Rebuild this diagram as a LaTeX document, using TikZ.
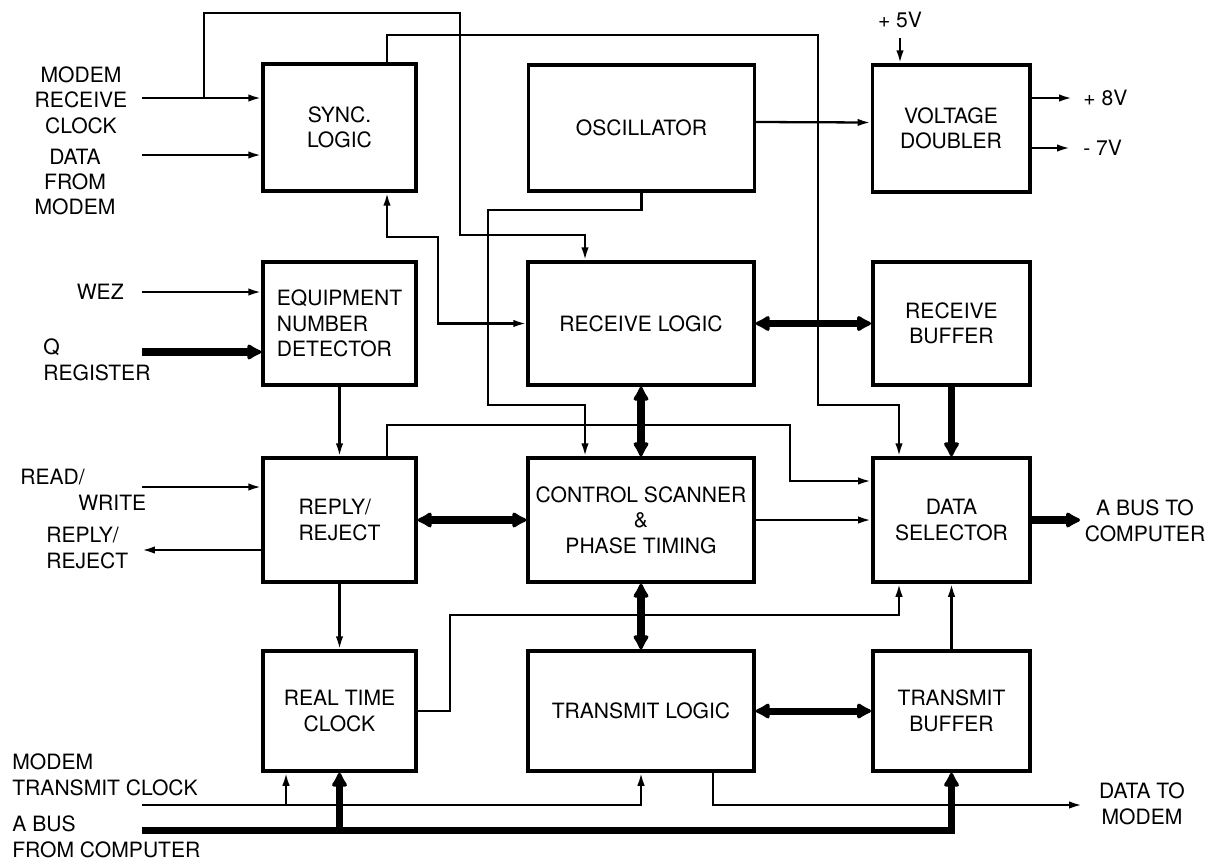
\documentclass[tikz,border=0pt]{standalone}
\usepackage{fontspec}
\setmainfont{TeX Gyre Heros}
\usetikzlibrary{arrows.meta,calc}

\tikzset{
	blk/.style={draw, line width=2pt, minimum width=3.06cm, minimum height=2.48cm, align=center, inner sep=2pt},
	wideblk/.style={blk, minimum width=4.52cm},
	rightblk/.style={blk, minimum width=3.15cm},
	sig/.style={line width=1.3pt, -{Latex[length=2.6mm,width=1.5mm]}},
	sigboth/.style={line width=1.3pt, {Latex[length=2.6mm,width=1.5mm]}-{Latex[length=2.6mm,width=1.5mm]}},
	bus/.style={line width=4pt, -{Latex[length=3.4mm,width=3.8mm,round]}},
	busboth/.style={line width=4pt, {Latex[length=3.4mm,width=3.8mm,round]}-{Latex[length=3.4mm,width=3.8mm,round]}},
	lbl/.style={inner sep=0pt}
}

\begin{document}
\begin{tikzpicture}[x=0.02cm, y=-0.02cm, font=\fontsize{12}{14.5}\selectfont]
	
	\useasboundingbox (0,0) rectangle (1217,863);
	
	\node [blk, minimum height=2.54cm] (sync) at (339.5,127.5) {SYNC.\\LOGIC};
	
	\node [wideblk, minimum height=2.52cm] (osc) at (641.5,128) {OSCILLATOR};
	
	\node [rightblk, minimum height=2.54cm] (vd) at (951,128.5) {VOLTAGE\\DOUBLER};
	
	\node [blk, minimum height=2.46cm, align=left] (eqd) at (339.5,323.5) {EQUIPMENT\\NUMBER\\DETECTOR};
	
	\node [wideblk, minimum height=2.46cm] (rcv) at (641,323.5) {RECEIVE LOGIC};
	
	\node [rightblk, minimum height=2.46cm] (rbuf) at (951.5,323.5) {RECEIVE\\BUFFER};
	
	\node [blk, align=left] (reply) at (339.5,520) {REPLY/\\REJECT};
	
	\node [wideblk] (ctrl) at (641,520) {CONTROL SCANNER\\\&\\PHASE TIMING};
	
	\node [rightblk] (dsel) at (951.5,520) {DATA\\SELECTOR};
	
	\node [blk, minimum height=2.4cm] (rtc) at (339.5,711) {REAL TIME\\CLOCK};
	
	\node [wideblk, minimum height=2.4cm] (xmit) at (641,711) {TRANSMIT LOGIC};
	
	\node [rightblk, minimum height=2.4cm] (xbuf) at (951.5,711) {TRANSMIT\\BUFFER};
	
	
	\node [lbl, align=center] (mrc) at (81,100) {MODEM\\RECEIVE\\CLOCK};
	
	\node [lbl, align=center] (dfm) at (75,182) {DATA\\FROM\\MODEM};
	
	\node [lbl, anchor=east] (wez) at (124,292) {WEZ};
	
	\node [lbl, anchor=west, align=left] (qreg) at (43,360) {Q\\REGISTER};
	
	\node [lbl, anchor=west, align=left] (rw) at (20,490) {READ/\\\hspace*{11.6mm}WRITE};
	
	\node [lbl, anchor=west, align=left] (rr) at (46,548) {REPLY/\\REJECT};
	
	\node [lbl, anchor=west, align=left] (mtc) at (12,775) {MODEM\\TRANSMIT CLOCK};
	
	\node [lbl, anchor=west, align=left] (abfc) at (12,837) {A BUS\\FROM COMPUTER};
	
	\node [lbl] (p5) at (900,20) {+ 5V};
	
	\node [lbl, anchor=west] (p8) at (1083,98) {+ 8V};
	
	\node [lbl, anchor=west] (m7) at (1083,148) {- 7V};
	
	\node [lbl, align=center] (abtc) at (1145,521) {A BUS TO\\COMPUTER};
	
	\node [lbl, align=center] (dtm) at (1142,804) {DATA TO\\MODEM};
	
	
	\coordinate (mrcin) at (142,98);
	\coordinate (j1) at (204,98);
	\coordinate (t1) at (460,13);
	\coordinate (t2) at (585,235);
	\coordinate (t3) at (818,35);
	\coordinate (t4) at (899,405);
	\coordinate (t5) at (438,237);
	\coordinate (t6) at (488,210);
	\coordinate (t7) at (585,405);
	\coordinate (t8) at (790,425);
	\coordinate (t9) at (450,615);
	\coordinate (dfmin) at (142,155);
	\coordinate (wezin) at (142,292);
	\coordinate (qin) at (142,352);
	\coordinate (rwin) at (142,487);
	\coordinate (rrout) at (142,550);
	\coordinate (mtcin) at (142,805);
	\coordinate (b1) at (286,805);
	\coordinate (abin) at (142,830);
	\coordinate (p8end) at (1072,98);
	\coordinate (m7end) at (1070,148);
	\coordinate (abend) at (1080,520);
	\coordinate (dtmend) at (1082,805);
	
	
	\draw [sig] (mrcin) -- (mrcin -| sync.west);
	
	\draw [sig] (j1) |- (t1) |- (t2) -- ($(rcv.north)+(-56,0)$);
	
	\draw [sig] ($(sync.north)+(47.5,0)$) |- (t3) |- (t4) -- ($(dsel.north)+(-52.5,0)$);
	
	\draw [sig] (dfmin) -- (dfmin -| sync.west);
	
	\draw [sigboth] ($(sync.south)+(47.5,0)$) |- (t5) |- (rcv.west);
	
	\draw [sig] (osc.south) |- (t6) |- (t7) -- ($(ctrl.north)+(-56,0)$);
	
	\draw [sig] ($(osc.east)+(0,-6)$) -- ($(vd.west)+(0,-6)$);
	
	\draw [sig, shorten <=2mm] (p5) -- (p5 |- vd.north);
	
	\draw [sig] (vd.east |- p8end) -- (p8end);
	
	\draw [sig] (vd.east |- m7end) -- (m7end);
	
	\draw [sig] (wezin) -- (wezin -| eqd.west);
	
	\draw [bus] (qin) -- (qin -| eqd.west);
	
	\draw [sig] (eqd.south) -- (reply.north);
	
	\draw [sig] ($(reply.north)+(47.5,0)$) |- (t8) |- ($(dsel.west)+(0,-39)$);
	
	\draw [sig] (ctrl.east) -- (dsel.west);
	
	\draw [sig] (rwin) -- (rwin -| reply.west);
	
	\draw [sig] (rrout -| reply.west) -- (rrout);
	
	\draw [busboth] (reply.east) -- (ctrl.west);
	
	\draw [busboth] (rcv.south) -- (ctrl.north);
	
	\draw [busboth] (rcv.east) -- (rbuf.west);
	
	\draw [bus] (rbuf.south) -- (dsel.north);
	
	\draw [bus] (dsel.east) -- (abend);
	
	\draw [sig] (reply.south) -- (rtc.north);
	
	\draw [sig] (rtc.east) -| (t9) -| ($(dsel.south)+(-52.5,0)$);
	
	\draw [busboth] (ctrl.south) -- (xmit.north);
	
	\draw [busboth] (xmit.east) -- (xbuf.west);
	
	\draw [sig] (xbuf.north) -- (dsel.south);
	
	\draw [sig] (mtcin) -| (xmit.south);
	
	\draw [sig] (b1) -- (b1 |- rtc.south);
	
	\draw [bus] (abin) -| (xbuf.south);
	
	\draw [bus] (rtc.south |- abin) -- (rtc.south);
	
	\draw [sig] ($(xmit.south)+(72,0)$) |- (dtmend);
	
\end{tikzpicture}
\end{document}
